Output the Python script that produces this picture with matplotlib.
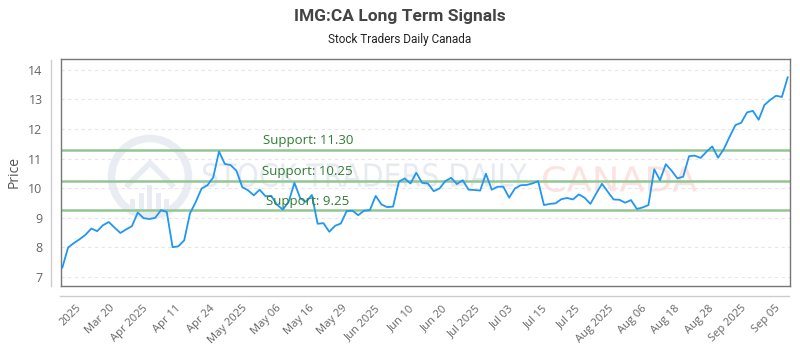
import numpy as np
import matplotlib
matplotlib.use("Agg")
import matplotlib.pyplot as plt
from matplotlib.lines import Line2D
from matplotlib.patches import Circle, Rectangle, Polygon, PathPatch
from matplotlib.textpath import TextPath
from matplotlib.font_manager import FontProperties
from matplotlib.transforms import Affine2D, IdentityTransform

title = "IMG:CA Long Term Signals"
subtitle = "Stock Traders Daily Canada"
y_label = "Price"

prices = [
    7.32, 8.00, 8.15, 8.28, 8.43, 8.64, 8.55, 8.75, 8.86, 8.67,
    8.49, 8.61, 8.72, 9.18, 8.99, 8.96, 9.00, 9.26, 9.20, 8.01,
    8.04, 8.24, 9.15, 9.54, 9.99, 10.10, 10.36, 11.24, 10.82, 10.78,
    10.59, 10.04, 9.93, 9.76, 9.95, 9.73, 9.74, 9.44, 9.28, 9.54,
    10.18, 9.66, 9.54, 9.77, 8.80, 8.82, 8.53, 8.73, 8.81, 9.23,
    9.24, 9.09, 9.24, 9.26, 9.74, 9.45, 9.36, 9.38, 10.22, 10.33,
    10.16, 10.52, 10.18, 10.16, 9.90, 9.99, 10.24, 10.35, 10.14, 10.27,
    9.95, 9.94, 9.92, 10.49, 9.95, 10.05, 10.05, 9.68, 9.99, 10.10,
    10.11, 10.16, 10.24, 9.43, 9.47, 9.49, 9.63, 9.67, 9.62, 9.79,
    9.68, 9.47, 9.82, 10.15, 9.88, 9.62, 9.61, 9.51, 9.60, 9.30,
    9.35, 9.43, 10.64, 10.27, 10.81, 10.59, 10.33, 10.39, 11.08, 11.10,
    11.02, 11.23, 11.41, 11.03, 11.32, 11.74, 12.13, 12.21, 12.56, 12.61,
    12.31, 12.81, 12.98, 13.12, 13.08, 13.74,
]

tick_labels = [
    "2025", "Mar 20", "Apr 2025", "Apr 11", "Apr 24", "May 2025", "May 06",
    "May 16", "May 29", "Jun 2025", "Jun 10", "Jun 20", "Jul 2025", "Jul 03",
    "Jul 15", "Jul 25", "Aug 2025", "Aug 06", "Aug 18", "Aug 28", "Sep 2025",
    "Sep 05",
]

y_ticks = [7, 8, 9, 10, 11, 12, 13, 14]
support_levels = [11.30, 10.25, 9.25]
support_labels = ["Support: 11.30", "Support: 10.25", "Support: 9.25"]

W, H = 800, 350
fig = plt.figure(figsize=(W / 100, H / 100), dpi=100)
fig.patch.set_facecolor("white")

L, R, T, B = 60.7, 790.0, 59.3, 285.7
ax = fig.add_axes([L / W, 1 - B / H, (R - L) / W, (B - T) / H])

x = np.arange(len(prices))


def watermark_text(s, x0, x1, ytop, ybot, family, color):
    tp = TextPath((0, 0), s, size=100, prop=FontProperties(family=family))
    bb = tp.get_extents()
    sx = (x1 - x0) / bb.width
    sy = (ybot - ytop) / bb.height
    tr = (Affine2D().translate(-bb.x0, -bb.y0).scale(sx, sy)
          .translate(x0, H - ybot))
    p = PathPatch(tr.transform_path(tp), transform=IdentityTransform(),
                  facecolor=color, edgecolor="none", zorder=0.6,
                  clip_on=False)
    ax.add_artist(p)


# watermark logo
wm = fig.dpi_scale_trans
ax.add_artist(Circle((1.50, (H - 177) / 100), 0.385, transform=wm, fill=False,
                     edgecolor="#e9edf3", lw=5.5, zorder=0.5, clip_on=False))
ax.add_artist(Polygon([(1.26, (H - 187) / 100), (1.50, (H - 163) / 100),
                       (1.74, (H - 187) / 100)], closed=False, transform=wm,
                      fill=False, edgecolor="#e9edf3", lw=4, zorder=0.5,
                      clip_on=False))
for i, hh in enumerate([0.16, 0.22, 0.30, 0.22, 0.16]):
    ax.add_artist(Rectangle((1.30 + i * 0.085, (H - 215) / 100), 0.05, hh,
                            transform=wm, facecolor="#e9edf3",
                            edgecolor="none", zorder=0.5, clip_on=False))
watermark_text("STOCK TRADERS DAILY", 203, 527, 163, 187, "DejaVu Sans",
               "#e7ebf1")
watermark_text("CANADA", 543, 697, 166, 192, "DejaVu Sans", "#fde2e2")

# grid
for yv in y_ticks:
    ax.axhline(yv, color="#e6e6e6", lw=0.8, ls=(0, (3, 3)), zorder=1)

# support lines
for lvl, lab in zip(support_levels, support_labels):
    ax.axhline(lvl, color="#92c692", lw=1.8, zorder=2)
    ax.text(42.3, lvl + 0.08, lab, ha="center", va="bottom", fontsize=9.5,
            family="Open Sans", color="#2e7d32", zorder=4)

ax.plot(x, prices, color="#2196f3", lw=1.3, zorder=3)

ax.set_xlim(-0.28, 125.4)
ax.set_ylim(6.71, 14.35)

ax.set_yticks(y_ticks)
ax.set_yticklabels([str(v) for v in y_ticks], family="Open Sans", fontsize=9,
                   color="#666666")
tick_pos = np.linspace(3.0, 123.4, len(tick_labels))
ax.set_xticks(tick_pos)
ax.set_xticklabels(tick_labels, rotation=45, ha="right", va="center",
                   rotation_mode="anchor", family="Open Sans", fontsize=8,
                   color="#666666")
ax.tick_params(axis="x", length=0, pad=15)
ax.tick_params(axis="y", length=0, pad=13)

for s in ax.spines.values():
    s.set_color("#777777")
    s.set_linewidth(1.0)

# offset axis lines
fig.add_artist(Line2D([51 / W, 51 / W], [1 - 60 / H, 1 - 286 / H],
                      color="#cccccc", lw=1.0))
fig.add_artist(Line2D([60 / W, 789 / W], [1 - 296 / H, 1 - 296 / H],
                      color="#cccccc", lw=1.0))

ax.set_ylabel(y_label, family="Open Sans", fontsize=10, color="#555555",
              labelpad=5)

fig.text(0.5, 1 - 16 / H, title, ha="center", va="center", fontsize=12.5,
         fontweight="bold", family="Roboto", color="#444444")
fig.text(0.5, 1 - 40 / H, subtitle, ha="center", va="center", fontsize=8.5,
         family="Roboto", color="#222222")

fig.savefig("out.png", dpi=100, facecolor="white")
